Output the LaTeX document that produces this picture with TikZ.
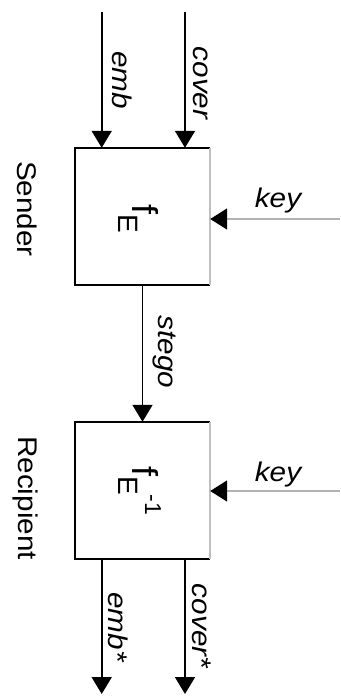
\documentclass[tikz,border=0pt]{standalone}
\usepackage{fontspec}
\usepackage{graphicx}
\setmainfont{Liberation Sans}
\usetikzlibrary{arrows.meta}
\definecolor{keygray}{RGB}{178,178,178}
\definecolor{edgegray}{RGB}{192,192,192}
% label text: Arial-metric sans, slightly widened
\newcommand{\lbl}[1]{\fontsize{27}{30}\selectfont\scalebox{1.1}[1]{#1}}

\begin{document}
\begin{tikzpicture}[x=1pt,y=-1pt,
  wire/.style={line width=1.8pt,-{Triangle[length=17pt,width=20pt]}},
  keywire/.style={line width=1.8pt,draw=keygray,-{Triangle[length=17pt,width=21pt,color=black]}},
  boxnode/.style={minimum width=135pt,minimum height=137pt,inner sep=0pt},
  boxline/.style={line width=1.8pt,line join=miter},
  sidelbl/.style={rotate=-90,anchor=base,inner sep=0pt},
  funlbl/.style={rotate=-90,anchor=base west,inner sep=0pt},
  keylbl/.style={anchor=base,inner sep=0pt}]
\useasboundingbox (0,0) rectangle (340,698);

% the two processing blocks
\node[boxnode] (send) at (142.5,216.5) {};
\node[boxnode] (recv) at (142.5,490.5) {};
\foreach \b in {send,recv}{
  \draw[boxline] (\b.north east) -- (\b.north west) -- (\b.south west) -- (\b.south east);
  \draw[boxline,draw=edgegray] (\b.north east) -- (\b.south east);
}

% functions inside the blocks
\node[funlbl] (fenc) at (132,204)
  {\fontsize{36}{36}\selectfont f\raisebox{-14pt}{\fontsize{28}{28}\selectfont E}};
\node[funlbl] (fdec) at (132,466)
  {\fontsize{36}{36}\selectfont f\raisebox{-14pt}{\fontsize{28}{28}\selectfont E}\raisebox{13pt}{\fontsize{23}{23}\selectfont -1}};

% inputs of the sender
\coordinate (embin) at (101.7,12);
\coordinate (covin) at (185,12);
\draw[wire] (embin) -- (embin |- send.north);
\draw[wire] (covin) -- (covin |- send.north);

% stego channel
\draw[wire] (send.south) -- (recv.north);

% outputs of the recipient
\coordinate (embout) at (101.7,694);
\coordinate (covout) at (185,694);
\draw[wire] (embout |- recv.south) -- (embout);
\draw[wire] (covout |- recv.south) -- (covout);

% keys
\coordinate (keyA) at (340,219);
\coordinate (keyB) at (340,491);
\draw[keywire] (keyA) -- (keyA -| send.east);
\draw[keywire] (keyB) -- (keyB -| recv.east);

% labels
\node[sidelbl] (lsend) at (17,209) {\lbl{Sender}};
\node[sidelbl] (lrecv) at (18,498) {\lbl{Recipient}};
\node[sidelbl] (lemb) at (112,80) {\lbl{\itshape emb}};
\node[sidelbl] (lcov) at (193,83) {\lbl{\itshape cover}};
\node[sidelbl] (lsteg) at (158,352) {\lbl{\itshape stego}};
\node[sidelbl] (lembo) at (108,627) {\lbl{\itshape emb*}};
\node[sidelbl] (lcovo) at (192,626) {\lbl{\itshape cover*}};
\node[keylbl] (lkeyA) at (278,207) {\lbl{\itshape key}};
\node[keylbl] (lkeyB) at (278,481) {\lbl{\itshape key}};
\end{tikzpicture}
\end{document}
